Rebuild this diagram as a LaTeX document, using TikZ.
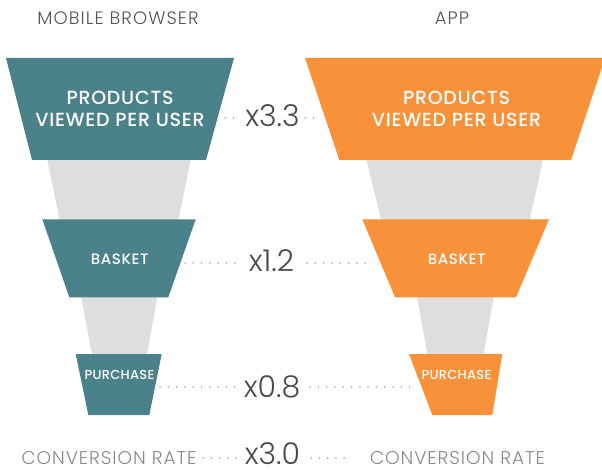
\documentclass[tikz,border=0pt]{standalone}
\usepackage{fontspec}
\setmainfont{Poppins}
\newfontfamily\lightfont{Poppins Light}
\newfontfamily\medfont{Poppins Medium}
\definecolor{mbteal}{HTML}{4B8289}
\definecolor{apporange}{HTML}{F7913A}
\definecolor{funnelgrey}{HTML}{DEDEDE}
\definecolor{hdrgrey}{HTML}{555555}
\definecolor{multgrey}{HTML}{4A4A4A}
\definecolor{convgrey}{HTML}{8A8A8A}
\definecolor{dotgrey}{HTML}{B4B4B4}
\begin{document}
\begin{tikzpicture}[x=1pt,y=-1pt,
  greypart/.style={fill=funnelgrey},
  mbpart/.style={fill=mbteal},
  apppart/.style={fill=apporange},
  hdr/.style={font=\lightfont\addfontfeatures{LetterSpace=6}\fontsize{18}{18}\selectfont, text=hdrgrey, inner sep=0, anchor=base},
  biglbl/.style={font=\medfont\addfontfeatures{LetterSpace=4}\fontsize{19}{21.7}\selectfont, text=white, inner sep=0, align=center},
  midlbl/.style={font=\medfont\addfontfeatures{LetterSpace=4}\fontsize{15}{15}\selectfont, text=white, inner sep=0, anchor=base},
  smalllbl/.style={font=\medfont\addfontfeatures{LetterSpace=2}\fontsize{13}{13}\selectfont, text=white, inner sep=0, anchor=base},
  mult/.style={font=\lightfont\fontsize{30}{30}\selectfont, text=multgrey, inner sep=0, anchor=base},
  conv/.style={font=\lightfont\addfontfeatures{LetterSpace=5}\fontsize{18.5}{18.5}\selectfont, text=convgrey, inner sep=0, anchor=base},
  dotline/.style={draw=dotgrey, line width=2pt, line cap=round, dash pattern=on 0pt off 8.3pt}
]
\useasboundingbox (0,0) rectangle (602,470);
\clip (0,0) rectangle (602,470);

% grey funnel bodies
\fill[greypart] (47,158) -- (191,158) -- (178,222) -- (60,222) -- cycle;
\fill[greypart] (80.7,295) -- (157.7,295) -- (146.7,356) -- (92.3,356) -- cycle;
\fill[greypart] (366,158) -- (543.3,158) -- (529.3,222) -- (381.7,222) -- cycle;
\fill[greypart] (416.7,295) -- (494,295) -- (483.3,356) -- (427.7,356) -- cycle;

% mobile browser stages
\fill[mbpart] (6,58) -- (234,58) -- (206,160) -- (32,160) -- cycle;
\fill[mbpart] (42.3,219.3) -- (195.7,219.3) -- (168.3,297.3) -- (69.3,297.3) -- cycle;
\fill[mbpart] (75.7,354) -- (161.7,354) -- (149.3,415) -- (88.3,415) -- cycle;

% app stages
\fill[apppart] (305,58) -- (605,58) -- (571,160) -- (339.3,160) -- cycle;
\fill[apppart] (362.3,219.3) -- (549,219.3) -- (516,297.3) -- (395,297.3) -- cycle;
\fill[apppart] (409,354) -- (502.3,354) -- (492.3,415) -- (432.3,415) -- cycle;

% headers
\node[hdr] (hmb) at (118,24.5) {MOBILE BROWSER};
\node[hdr] (happ) at (452,24.5) {APP};

% stage labels
\node[biglbl] (pvl) at (120,109.2) {PRODUCTS\\VIEWED PER USER};
\node[biglbl] (pvr) at (456.5,109.2) {PRODUCTS\\VIEWED PER USER};
\node[midlbl] (bl) at (119.7,265) {BASKET};
\node[midlbl] (br) at (456.7,265) {BASKET};
\node[smalllbl] (pl) at (119.5,379) {PURCHASE};
\node[smalllbl] (pr) at (456.5,379) {PURCHASE};

% multipliers
\node[mult] (m1) at (272.5,127) {x3.3};
\node[mult] (m2) at (271.5,272) {x1.2};
\node[mult] (m3) at (272,397) {x0.8};
\node[mult] (m4) at (272.5,464) {x3.0};

% conversion rate
\node[conv] (cl) at (109,464) {CONVERSION RATE};
\node[conv] (cr) at (457.5,464) {CONVERSION RATE};

% dotted leaders
\coordinate (d1a) at (225,118);  \coordinate (d1b) at (234,118);
\coordinate (d1c) at (305,118);  \coordinate (d1d) at (321,118);
\coordinate (d2a) at (185,263);  \coordinate (d2b) at (236,263);
\coordinate (d2c) at (307,263);  \coordinate (d2d) at (369,263);
\coordinate (d3a) at (160,387);  \coordinate (d3b) at (237,387);
\coordinate (d3c) at (310,387);  \coordinate (d3d) at (411,387);
\coordinate (d4a) at (203,458);  \coordinate (d4b) at (239,458);
\coordinate (d4c) at (311,458);  \coordinate (d4d) at (352,458);
\draw[dotline] (d1a) -- (d1b);
\draw[dotline] (d1c) -- (d1d);
\draw[dotline] (d2a) -- (d2b);
\draw[dotline] (d2c) -- (d2d);
\draw[dotline] (d3a) -- (d3b);
\draw[dotline] (d3c) -- (d3d);
\draw[dotline] (d4a) -- (d4b);
\draw[dotline] (d4c) -- (d4d);
\end{tikzpicture}
\end{document}
